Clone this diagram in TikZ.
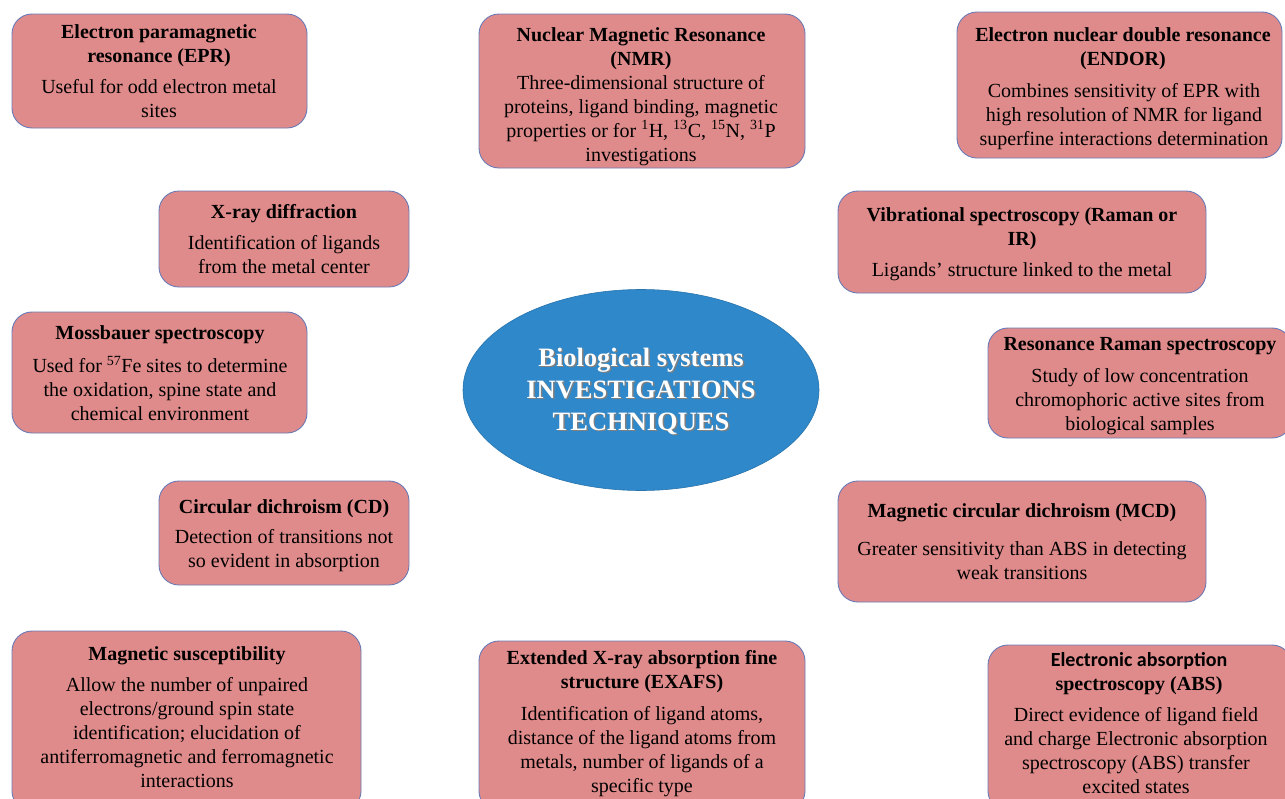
\documentclass[tikz,border=0pt]{standalone}
\usepackage{fontspec}
\setmainfont{Liberation Serif}
\newfontfamily\calibrifont{Carlito}
\usetikzlibrary{shapes.geometric}
\definecolor{boxfill}{RGB}{224,139,139}
\definecolor{boxline}{RGB}{105,122,182}
\definecolor{ellfill}{RGB}{47,136,202}
\tikzset{
  techbox/.style={draw=boxline, line width=0.9pt, fill=boxfill, rounded corners=20pt, inner sep=0pt},
  ttl/.style={anchor=north, inner sep=0pt, align=center, font=\fontsize{20}{24}\selectfont\bfseries},
  bdy/.style={anchor=north, inner sep=0pt, align=center, font=\fontsize{20}{24}\selectfont},
  ctrtext/.style={anchor=north, inner sep=0pt, align=center, font=\fontsize{26.5}{32}\selectfont\bfseries},
}
\begin{document}
\begin{tikzpicture}[x=1pt, y=-1pt]
\useasboundingbox (0,0) rectangle (1285,798);
\clip (0,0) rectangle (1285,798);
\fill[white] (0,0) rectangle (1285,798);

% boxes
\node[techbox, minimum width=295pt, minimum height=114pt] (epr) at (159.5,71) {};
\node[techbox, minimum width=326pt, minimum height=154pt] (nmr) at (642,91) {};
\node[techbox, minimum width=325pt, minimum height=146pt] (endor) at (1119.5,85) {};
\node[techbox, minimum width=250pt, minimum height=96pt] (xray) at (284,239) {};
\node[techbox, minimum width=368pt, minimum height=102pt] (vib) at (1022,242) {};
\node[techbox, minimum width=295pt, minimum height=121pt] (moss) at (159.5,372.5) {};
\node[techbox, minimum width=304pt, minimum height=110pt] (rr) at (1140,383) {};
\node[techbox, minimum width=250pt, minimum height=104pt] (cd) at (284,533) {};
\node[techbox, minimum width=368pt, minimum height=121pt] (mcd) at (1022,541.5) {};
\node[techbox, minimum width=349pt, minimum height=180pt] (mag) at (186.5,721) {};
\node[techbox, minimum width=326pt, minimum height=170pt] (exafs) at (642,726) {};
\node[techbox, minimum width=304pt, minimum height=166pt] (abs) at (1140,728) {};

% central ellipse
\node[ellipse, fill=ellfill, draw=ellfill!85!black, line width=0.6pt, minimum width=356pt, minimum height=201pt] (center) at (641,390) {};
\node[ctrtext, text=black!50] (ctrshadow) at (642.5,349) {Biological systems\\INVESTIGATIONS\\TECHNIQUES};
\node[ctrtext, text=white] (ctrlabel) at (641,347.5) {Biological systems\\INVESTIGATIONS\\TECHNIQUES};

% texts
\node[ttl] (eprT) at (159,24) {Electron paramagnetic\\resonance (EPR)};
\node[bdy] (eprB) at (159,79) {Useful for odd electron metal\\sites};

\node[ttl] (nmrT) at (641,27) {Nuclear Magnetic Resonance\\(NMR)};
\node[bdy] (nmrB) at (641,75) {Three-dimensional structure of\\proteins, ligand binding, magnetic\\properties or for \textsuperscript{1}H, \textsuperscript{13}C, \textsuperscript{15}N, \textsuperscript{31}P\\investigations};

\node[ttl] (endorT) at (1123,27) {Electron nuclear double resonance\\(ENDOR)};
\node[bdy] (endorB) at (1124,83) {Combines sensitivity of EPR with\\high resolution of NMR for ligand\\superfine interactions determination};

\node[ttl] (xrayT) at (284,204) {X-ray diffraction};
\node[bdy] (xrayB) at (284,235) {Identification of ligands\\from the metal center};

\node[ttl] (vibT) at (1022,207) {Vibrational spectroscopy (Raman or\\IR)};
\node[bdy] (vibB) at (1022,262) {Ligands’ structure linked to the metal};

\node[ttl] (mossT) at (160,325) {Mossbauer spectroscopy};
\node[bdy] (mossB) at (160,356) {Used for \textsuperscript{57}Fe sites to determine\\the oxidation, spine state and\\chemical environment};

\node[ttl] (rrT) at (1140,337) {Resonance Raman spectroscopy};
\node[bdy] (rrB) at (1140,368) {Study of low concentration\\chromophoric active sites from\\biological samples};

\node[ttl] (cdT) at (284,499) {Circular dichroism (CD)};
\node[bdy] (cdB) at (284,529) {Detection of transitions not\\so evident in absorption};

\node[ttl] (mcdT) at (1022,503) {Magnetic circular dichroism (MCD)};
\node[bdy] (mcdB) at (1022,541) {Greater sensitivity than ABS in detecting\\weak transitions};

\node[ttl] (magT) at (187,646) {Magnetic susceptibility};
\node[bdy] (magB) at (187,677) {Allow the number of unpaired\\electrons/ground spin state\\identification; elucidation of\\antiferromagnetic and ferromagnetic\\interactions};

\node[ttl] (exafsT) at (642,650) {Extended X-ray absorption fine\\structure (EXAFS)};
\node[bdy] (exafsB) at (642,706) {Identification of ligand atoms,\\distance of the ligand atoms from\\metals, number of ligands of a\\specific type};

\node[ttl] (absT) at (1139,652) {{\calibrifont Electronic absorption}\\spectroscopy (ABS)};
\node[bdy] (absB) at (1136,707) {Direct evidence of ligand field\\and charge Electronic absorption\\spectroscopy (ABS) transfer\\excited states};
\end{tikzpicture}
\end{document}
